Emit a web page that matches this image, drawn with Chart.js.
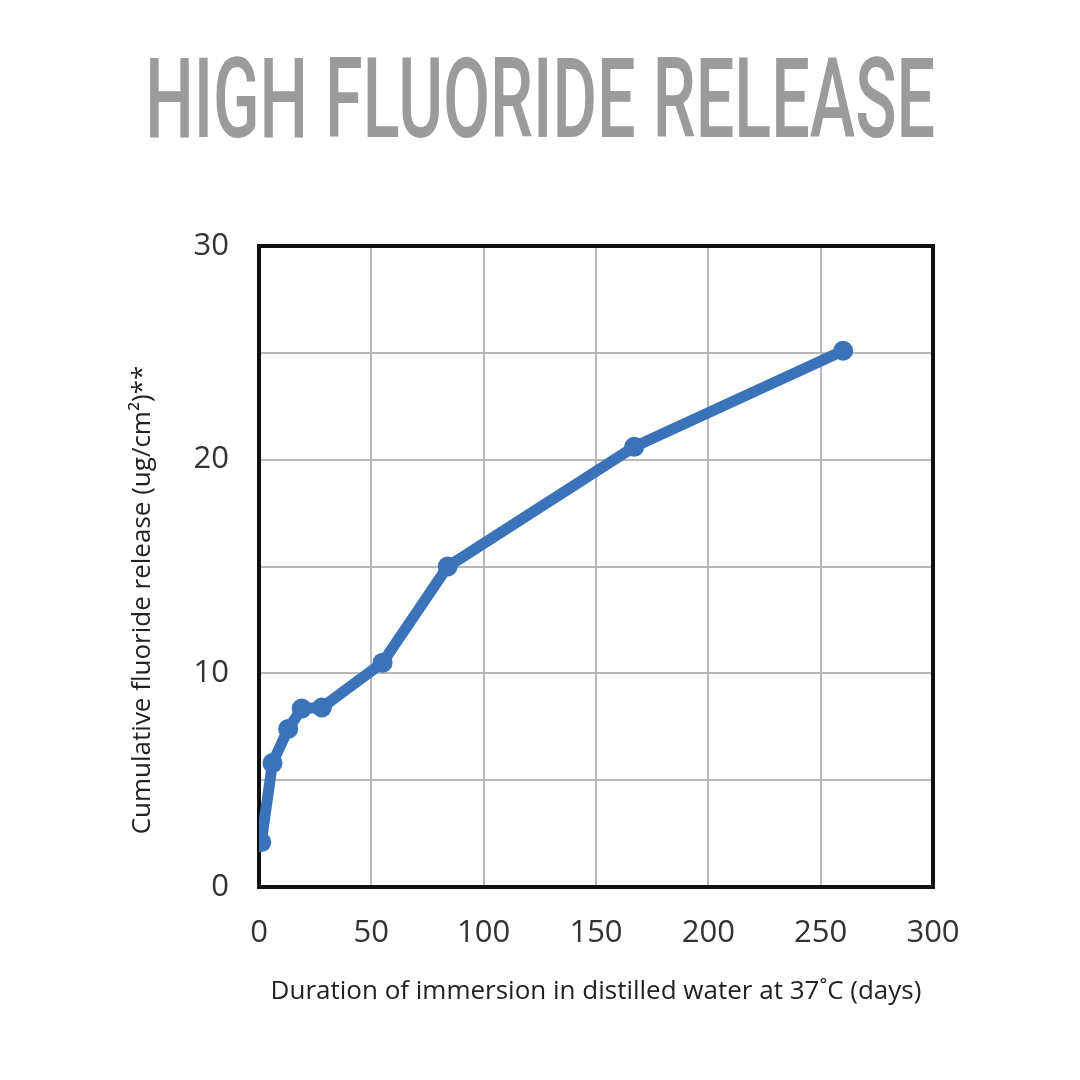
<!DOCTYPE html>
<html>
<head>
<meta charset="utf-8">
<script src="https://cdn.jsdelivr.net/npm/chart.js@4.4.1/dist/chart.umd.min.js"></script>
<style>
  html, body { margin: 0; padding: 0; background: #fff; }
  #wrap { position: relative; width: 1080px; height: 1080px; overflow: hidden; }
  #titleText {
    position: absolute; top: 43px; left: 0;
    font-family: Roboto, sans-serif; font-weight: 500;
    font-size: 112px; line-height: 1; color: #9b9b9b; white-space: nowrap;
    transform-origin: center;
  }
  #chart { position: absolute; left: 0; top: 0; }
</style>
</head>
<body>
<div id="wrap">
  <canvas id="chart" width="1080" height="1080"></canvas>
  <div id="titleText">HIGH FLUORIDE RELEASE</div>
</div>
<script>
// values
var days = [1, 6, 13, 19, 28, 55, 84, 167, 260];
var release = [2.1, 5.8, 7.4, 8.35, 8.4, 10.5, 15.0, 20.6, 25.1];
var xTicks = [0, 50, 100, 150, 200, 250, 300];
var yTicks = [0, 10, 20, 30];

var xTitle = 'Duration of immersion in distilled water at 37\u02DAC (days)';
var yTitle = 'Cumulative fluoride release (ug/cm\u00B2)**';

// squeeze the title to the condensed width of the original
(function () {
  var c = document.createElement('canvas').getContext('2d');
  c.font = '500 112px Roboto';
  var w = c.measureText('HIGH FLUORIDE RELEASE').width;
  var el = document.getElementById('titleText');
  el.style.left = (540 - w / 2) + 'px';
  el.style.width = w + 'px';
  el.style.transform = 'scaleX(' + (790 / w) + ')';
})();

var points = [];
for (var i = 0; i < days.length; i++) {
  points.push({ x: days[i], y: release[i] });
}

var frame = {
  id: 'frame',
  beforeDatasetsDraw: function (chart) {
    var a = chart.chartArea;
    var ctx = chart.ctx;
    ctx.save();
    ctx.strokeStyle = '#111111';
    ctx.lineWidth = 4;
    ctx.strokeRect(a.left, a.top, a.right - a.left, a.bottom - a.top);
    ctx.restore();
  }
};

// y title sits a little below the middle of the axis in the original
var yTitlePlugin = {
  id: 'yTitle',
  afterDraw: function (chart) {
    var ctx = chart.ctx;
    ctx.save();
    ctx.translate(143, 600);
    ctx.rotate(-Math.PI / 2);
    ctx.font = '400 26px "Open Sans"';
    ctx.fillStyle = '#222222';
    ctx.textAlign = 'center';
    ctx.textBaseline = 'middle';
    ctx.fillText(yTitle, 0, 0);
    ctx.restore();
  }
};

var tickFont = { family: 'Open Sans', size: 31, weight: 400 };
var titleFont = { family: 'Open Sans', size: 26, weight: 400 };

var ctx = document.getElementById('chart');
var myChart = new Chart(ctx, {
  type: 'line',
  data: {
    datasets: [{
      label: 'release',
      data: points,
      borderColor: '#3b73b9',
      backgroundColor: '#3b73b9',
      borderWidth: 11,
      pointRadius: 10,
      pointHoverRadius: 10,
      pointBorderWidth: 0,
      tension: 0
    }]
  },
  plugins: [frame, yTitlePlugin],
  options: {
    responsive: false,
    animation: false,
    layout: { padding: { left: 100, right: 147, top: 246, bottom: 63 } },
    plugins: { legend: { display: false }, tooltip: { enabled: false } },
    scales: {
      x: {
        type: 'linear',
        min: 0,
        max: 300,
        afterBuildTicks: function (axis) {
          axis.ticks = xTicks.map(function (v) { return { value: v }; });
        },
        afterFit: function (axis) { axis.height = 130; },
        grid: { color: '#b8b8b8', lineWidth: 2, drawTicks: false },
        border: { display: false },
        ticks: { color: '#333333', font: tickFont, padding: 28, maxRotation: 0 },
        title: { display: true, text: xTitle, color: '#222222', font: titleFont, padding: { bottom: 10 } }
      },
      y: {
        type: 'linear',
        min: 0,
        max: 30,
        ticks: {
          stepSize: 5,
          color: '#333333',
          font: tickFont,
          padding: 30,
          callback: function (v) { return yTicks.indexOf(v) >= 0 ? String(v) : ''; }
        },
        afterFit: function (axis) { axis.width = 159; },
        grid: { color: '#b8b8b8', lineWidth: 2, drawTicks: false },
        border: { display: false },
        title: { display: false }
      }
    }
  }
});
</script>
</body>
</html>
